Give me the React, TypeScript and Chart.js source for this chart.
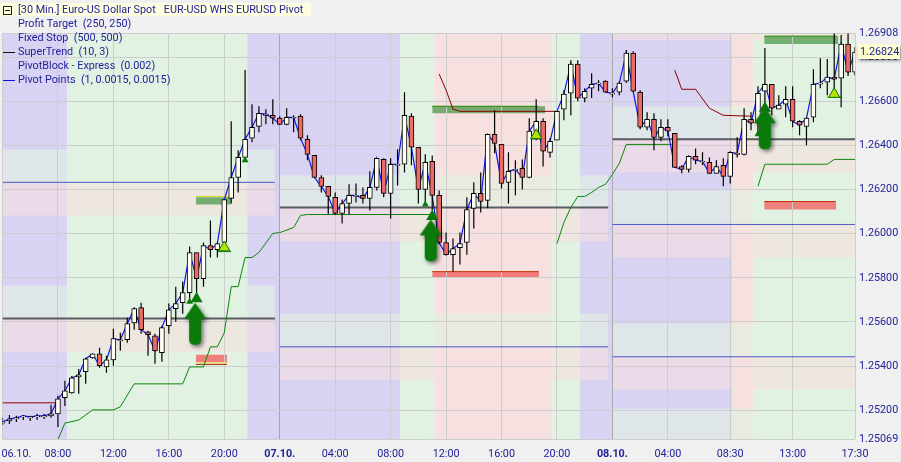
import React, { useEffect, useRef } from "react";
import { Chart, registerables } from "chart.js";

Chart.register(...registerables);

const highs = [1.25165,1.25178,1.25174,1.25178,1.25174,1.25183,1.25183,1.25224,1.25265,1.25333,1.25355,1.25387,1.25437,1.25455,1.25483,1.25446,1.25569,1.25551,1.25619,1.25665,1.25687,1.2556,1.25546,1.25583,1.25683,1.2576,1.25783,1.25942,1.25915,1.2596,1.2606,1.2596,1.26155,1.2651,1.26378,1.26742,1.26587,1.26578,1.26565,1.2661,1.26533,1.26569,1.26537,1.26542,1.26446,1.26355,1.26265,1.26215,1.26187,1.26155,1.26224,1.26228,1.2621,1.26283,1.26342,1.26342,1.26342,1.26383,1.26642,1.26546,1.26392,1.2636,1.26355,1.26196,1.26005,1.25978,1.26005,1.26165,1.26233,1.26278,1.26451,1.2656,1.26405,1.26369,1.26333,1.26337,1.26524,1.2661,1.26524,1.26433,1.26555,1.26651,1.26787,1.26787,1.2666,1.26728,1.26696,1.26696,1.2666,1.26692,1.26833,1.26828,1.26651,1.26551,1.26546,1.26519,1.26519,1.26455,1.2631,1.26355,1.26387,1.26369,1.26346,1.26333,1.26342,1.26374,1.26437,1.26569,1.26551,1.26669,1.26842,1.26678,1.26628,1.26669,1.26669,1.26515,1.26528,1.26746,1.26796,1.26792,1.2691,1.26901,1.2691,1.26846];
const lows = [1.25132,1.25137,1.25146,1.25155,1.25151,1.25155,1.2516,1.25165,1.25123,1.25219,1.25274,1.25274,1.25319,1.25433,1.25392,1.25369,1.25401,1.25469,1.25505,1.25565,1.25546,1.25446,1.2541,1.25419,1.25546,1.25601,1.25637,1.25696,1.2571,1.2576,1.25892,1.25892,1.2596,1.26137,1.26187,1.26342,1.26415,1.2646,1.26496,1.26496,1.26496,1.26492,1.2646,1.26424,1.26333,1.26255,1.26187,1.26087,1.26087,1.26046,1.26087,1.26142,1.26137,1.26105,1.26196,1.26165,1.26069,1.26219,1.26278,1.2631,1.26137,1.26137,1.26105,1.25951,1.25901,1.25828,1.2586,1.25905,1.26024,1.26096,1.26115,1.26365,1.26205,1.26137,1.26174,1.26201,1.26251,1.26424,1.26305,1.26346,1.26424,1.26515,1.26537,1.26601,1.26596,1.26615,1.26646,1.26642,1.26619,1.26628,1.26683,1.26642,1.26474,1.26469,1.26378,1.26419,1.26442,1.26301,1.26274,1.26278,1.26315,1.2631,1.26274,1.26274,1.26215,1.26228,1.26346,1.26355,1.26469,1.26455,1.26551,1.26537,1.26565,1.26528,1.26483,1.26446,1.26401,1.26505,1.2666,1.26628,1.26624,1.26574,1.26715,1.26719];
const opens = [1.25141,1.25151,1.2516,1.25169,1.25165,1.25169,1.25169,1.25174,1.25183,1.25256,1.25278,1.25351,1.25374,1.25437,1.25455,1.25396,1.25428,1.25515,1.25519,1.25596,1.25665,1.25555,1.25537,1.2546,1.25583,1.2566,1.25687,1.25733,1.25915,1.25796,1.25946,1.25928,1.2596,1.2616,1.26255,1.26346,1.26433,1.26487,1.26537,1.26537,1.26524,1.26496,1.26524,1.26533,1.26428,1.26355,1.26255,1.26215,1.26165,1.26092,1.26137,1.26169,1.26174,1.2616,1.2621,1.26337,1.26183,1.2631,1.26315,1.26533,1.26392,1.26201,1.26328,1.26174,1.2596,1.25905,1.25937,1.2596,1.26115,1.26183,1.26151,1.26451,1.26405,1.26233,1.26287,1.26296,1.26255,1.26465,1.2651,1.26369,1.26424,1.26565,1.26637,1.26769,1.26615,1.2666,1.26678,1.26692,1.26633,1.26642,1.26692,1.26819,1.26642,1.26483,1.26519,1.26437,1.26483,1.26455,1.26305,1.26292,1.26351,1.26324,1.26324,1.26274,1.2631,1.2626,1.2636,1.2636,1.26519,1.26501,1.26646,1.26678,1.26565,1.26587,1.2661,1.2651,1.26487,1.26528,1.26678,1.26687,1.2671,1.26705,1.2686,1.26733];
const closes = [1.25146,1.2516,1.25165,1.25174,1.25169,1.25174,1.25174,1.25183,1.25251,1.25287,1.25346,1.2536,1.25433,1.25455,1.25401,1.25428,1.25524,1.25519,1.25592,1.2566,1.25565,1.25542,1.25469,1.25574,1.25655,1.25683,1.25733,1.25915,1.25796,1.25946,1.25928,1.25955,1.26155,1.26255,1.26346,1.26428,1.26483,1.26546,1.26542,1.26524,1.26496,1.26528,1.26528,1.26433,1.2636,1.26255,1.26215,1.26169,1.26092,1.26137,1.26174,1.26174,1.2616,1.2621,1.26342,1.26183,1.26315,1.26315,1.26537,1.26392,1.26201,1.26324,1.26174,1.2596,1.25905,1.25933,1.25955,1.2611,1.26183,1.26146,1.26451,1.2641,1.26228,1.26283,1.26292,1.26255,1.26465,1.2651,1.26374,1.26419,1.26555,1.26633,1.26769,1.26615,1.26646,1.26678,1.26683,1.26642,1.26637,1.26683,1.26819,1.26646,1.26483,1.26519,1.26437,1.26483,1.26465,1.26301,1.26292,1.26351,1.26333,1.26328,1.26274,1.26305,1.2626,1.26369,1.26365,1.26519,1.26501,1.26637,1.26678,1.26569,1.26583,1.2661,1.2651,1.26492,1.26524,1.26678,1.26683,1.2671,1.26701,1.2686,1.26733,1.26824];

const xTickIndex = [0, 2, 8, 16, 24, 32, 40, 48, 56, 64, 72, 80, 88, 96, 105, 114, 123];
const xTickLabels = ["", "06.10.", "08:00", "12:00", "16:00", "20:00", "07.10.", "04:00", "08:00", "12:00", "16:00", "20:00", "08.10.", "04:00", "08:30", "13:00", "17:30"];
const boldDates = ["07.10.", "08.10."];
const yTickValues = [1.26908, 1.268, 1.266, 1.264, 1.262, 1.26, 1.258, 1.256, 1.254, 1.252, 1.25069];

const legendRows = ["Profit Target  (250, 250)", "Fixed Stop  (500, 500)", "SuperTrend  (10, 3)", "PivotBlock - Express  (0.002)", "Pivot Points  (1, 0.0015, 0.0015)"];
const headerText = "[30 Min.] Euro-US Dollar Spot   EUR-USD WHS EURUSD Pivot";
const lastPriceText = "1.26824";

// market-phase columns
const colStart = [0, 9.3, 35.3, 57.4, 62.3, 79.3, 83.3, 105.3, 108.3];
const colEnd = [9.3, 35.3, 57.4, 62.3, 79.3, 83.3, 105.3, 108.3, 123];
const colKind = ["p", "g", "p", "g", "r", "g", "p", "r", "g"];

// pivot blocks
const rowStart = [0, 0, 0, 0, 40, 40, 40, 40, 88, 88, 88, 88, 88, 88, 88, 88];
const rowEnd = [39.3, 39.3, 39.3, 39.3, 87.4, 87.4, 87.4, 87.4, 123, 123, 123, 123, 123, 123, 123, 123];
const rowTop = [1.26383, 1.26233, 1.25765, 1.25615, 1.26265, 1.26119, 1.25637, 1.25487, 1.26908, 1.26578, 1.26428, 1.26196, 1.26042, 1.25592, 1.25442, 1.25206];
const rowBottom = [1.26233, 1.26083, 1.25615, 1.25465, 1.26119, 1.25965, 1.25487, 1.25337, 1.26878, 1.26428, 1.26278, 1.26042, 1.25892, 1.25442, 1.25292, 1.25069];
const rowKind = ["g", "r", "g", "r", "g", "r", "g", "r", "r", "g", "r", "g", "r", "g", "r", "g"];

// target / stop zones
const zoneStart = [27.9, 62, 109.9, 27.9, 62, 109.9];
const zoneEnd = [33, 78.3, 120.6, 32.4, 77.4, 120.3];
const zoneTop = [1.26165, 1.26578, 1.26896, 1.25451, 1.25828, 1.26146];
const zoneBottom = [1.26133, 1.26546, 1.2686, 1.25417, 1.25801, 1.2611];
const zoneKind = ["t", "t", "t", "s", "s", "s"];

// horizontal level lines
const pivotStart = [0, 40, 88];
const pivotEnd = [39.3, 87.4, 123];
const pivotLevel = [1.25615, 1.26119, 1.26428];
const supportStart = [0, 40, 88, 88];
const supportEnd = [39.3, 87.4, 123, 123];
const supportLevel = [1.26233, 1.25487, 1.26042, 1.25442];
const entryStart = [27.9, 62, 109.9, 27.9, 27.9, 62, 109.9, 31.1, 76, 119];
const entryEnd = [32.9, 77.3, 120.4, 32.4, 32.4, 77.4, 120.2, 33, 77.8, 121];
const entryLevel = [1.26169, 1.26578, 1.26896, 1.25413, 1.25408, 1.25828, 1.26146, 1.25919, 1.2643, 1.26619];
const entryColor = ["#d8d820", "#1f8a00", "#1f8a00", "#f2e84a", "#a00000", "#c03000", "#c03000", "#0a7a0a", "#0a7a0a", "#0a7a0a"];

// SuperTrend pieces
const stGreen1I = [8,9,11,13,16,17,19,26,27,29,30,31,32,33,34,35,36,37,39,40,42,43,44,62];
const stGreen1V = [1.25065,1.25141,1.25155,1.25201,1.25201,1.25215,1.25319,1.25319,1.25396,1.25396,1.25487,1.25487,1.25551,1.2576,1.2576,1.25892,1.25892,1.25915,1.26001,1.26005,1.26028,1.26083,1.26087,1.26087];
const stGreen2I = [80,81,82,83,84,85,86,87,88,89,90,97];
const stGreen2V = [1.25955,1.26051,1.26119,1.26169,1.26169,1.26187,1.2621,1.26224,1.26269,1.26319,1.26405,1.26405];
const stGreen3I = [109,110,119,120,123];
const stGreen3V = [1.26215,1.26315,1.26315,1.26337,1.26337];
const stRed1I = [0, 7.6];
const stRed1V = [1.25233, 1.25233];
const stRed2I = [63,64,65,66,80];
const stRed2V = [1.26724,1.26651,1.26565,1.26555,1.26555];
const stRed3I = [97,98,100,102,104,108];
const stRed3V = [1.26742,1.26655,1.26655,1.26569,1.26537,1.26533];

// signals
const smallTriI = [27, 35, 61, 109];
const smallTriV = [1.25692, 1.26333, 1.26133, 1.26451];
const bigTriI = [28, 62, 110];
const bigTriV = [1.25705, 1.26078, 1.26569];
const limeTriI = [32, 77, 120];
const limeTriV = [1.25937, 1.26446, 1.26633];
const arrowI = [28, 62, 110.2];
const arrowV = [1.25587, 1.25965, 1.26474];

const BASE: Record<string, string> = { p: "#d9d3f3", g: "#e1f2e2", r: "#f7e0e0" };
const OVER: Record<string, string> = { g: "rgba(225,242,226,0.62)", r: "rgba(247,224,224,0.6)" };
const ZONE: Record<string, string> = { t: "rgba(30,130,30,0.58)", s: "rgba(245,70,70,0.66)" };
const NAVY = "#22229a";
const FONT = 'Roboto, "Liberation Sans", sans-serif';

function rect(a: number, b: number, top: number, bottom: number, color: string) {
  return {
    type: "line",
    data: [{ x: a, y: top }, { x: b, y: top }],
    fill: { value: bottom },
    backgroundColor: color,
    borderWidth: 0,
    pointRadius: 0,
  };
}
function pts(xs: number[], ys: number[]) {
  return xs.map((x, i) => ({ x, y: ys[i] }));
}
function poly(xs: number[], ys: number[], color: string, width = 1) {
  return { type: "line", data: pts(xs, ys), borderColor: color, borderWidth: width, pointRadius: 0, fill: false, tension: 0 };
}
function hline(a: number, b: number, v: number, color: string, width: number) {
  return poly([a, b], [v, v], color, width);
}
function makeArrow() {
  const c = document.createElement("canvas");
  c.width = 35;
  c.height = 54;
  const g = c.getContext("2d")!;
  g.shadowColor = "rgba(0,0,0,0.55)";
  g.shadowBlur = 4;
  g.shadowOffsetX = 2;
  g.shadowOffsetY = 2;
  g.fillStyle = "#0a7a0a";
  g.beginPath();
  g.moveTo(16, 5);
  g.lineTo(27, 21);
  g.lineTo(22, 21);
  g.lineTo(22, 42);
  g.quadraticCurveTo(22, 47, 16, 47);
  g.quadraticCurveTo(10, 47, 10, 42);
  g.lineTo(10, 21);
  g.lineTo(5, 21);
  g.closePath();
  g.fill();
  return c;
}

const overlay = {
  id: "overlay",
  afterDraw(chart: any) {
    const g = chart.ctx;
    g.save();
    g.fillStyle = "#ffffe0";
    g.fillRect(0, 3, 311, 13);
    g.strokeStyle = "#202020";
    g.lineWidth = 1;
    g.strokeRect(3.5, 6.5, 8, 8);
    g.beginPath();
    g.moveTo(5, 10.5);
    g.lineTo(10, 10.5);
    g.stroke();
    g.font = `10.8px ${FONT}`;
    g.textBaseline = "middle";
    g.fillStyle = NAVY;
    g.fillText(headerText, 18, 10.5);
    legendRows.forEach((t, i) => g.fillText(t, 18, 24.5 + i * 14));
    g.strokeStyle = "#101010";
    g.beginPath();
    g.moveTo(3, 52.5);
    g.lineTo(15, 52.5);
    g.stroke();
    g.strokeStyle = "#1010e0";
    g.beginPath();
    g.moveTo(3, 80.5);
    g.lineTo(15, 80.5);
    g.stroke();
    // last price tag
    const y = chart.scales.y.getPixelForValue(Number(lastPriceText));
    g.shadowColor = "rgba(0,0,0,0.5)";
    g.shadowBlur = 3;
    g.shadowOffsetX = 1;
    g.shadowOffsetY = 2;
    g.fillStyle = "#ffffd2";
    g.fillRect(858, y - 8, 42, 15);
    g.shadowColor = "transparent";
    g.fillStyle = NAVY;
    g.fillText(lastPriceText, 860, y);
    g.restore();
  },
};

export default function App() {
  const ref = useRef<HTMLCanvasElement>(null);
  useEffect(() => {
    document.body.style.margin = "0";
    const idx = opens.map((_, i) => i);
    const isUp = closes.map((c, i) => c >= opens[i]);
    const arrow = makeArrow();
    const datasets: any[] = [
      { type: "scatter", data: pts(arrowI, arrowV), pointStyle: arrow, pointRadius: 12 },
      { type: "scatter", data: pts(limeTriI, limeTriV), pointStyle: "triangle", pointRadius: 6.5, backgroundColor: "#b8e000", borderColor: "#0a7a0a", borderWidth: 1 },
      { type: "scatter", data: pts(bigTriI, bigTriV), pointStyle: "triangle", pointRadius: 7, backgroundColor: "#0a7a0a", borderColor: "#0a7a0a", borderWidth: 0 },
      { type: "scatter", data: pts(smallTriI, smallTriV), pointStyle: "triangle", pointRadius: 4, backgroundColor: "#0a7a0a", borderColor: "#0a7a0a", borderWidth: 0 },
      {
        type: "bar",
        data: idx.map((i) => ({ x: i, y: [opens[i], closes[i]] })),
        barThickness: 5,
        grouped: false,
        backgroundColor: idx.map((i) => (isUp[i] ? "#fffff4" : "#ee6a66")),
        borderColor: "#000",
        borderWidth: 1,
        borderSkipped: false,
      },
      {
        type: "bar",
        data: idx.map((i) => ({ x: i, y: [lows[i], highs[i]] })),
        barThickness: 1.2,
        grouped: false,
        backgroundColor: "#000",
        borderWidth: 0,
        inflateAmount: 0,
      },
      poly(idx, closes, "#1414e6", 1.2),
      poly(stGreen1I, stGreen1V, "#0b860b"),
      poly(stGreen2I, stGreen2V, "#0b860b"),
      poly(stGreen3I, stGreen3V, "#0b860b"),
      poly(stRed1I, stRed1V, "#8b0000"),
      poly(stRed2I, stRed2V, "#8b0000"),
      poly(stRed3I, stRed3V, "#8b0000"),
      ...entryLevel.map((v, i) => hline(entryStart[i], entryEnd[i], v, entryColor[i], 1)),
      ...pivotLevel.map((v, i) => hline(pivotStart[i], pivotEnd[i], v, "#5a5a62", 2)),
      ...supportLevel.map((v, i) => hline(supportStart[i], supportEnd[i], v, "#4a58c8", 1)),
      ...zoneTop.map((v, i) => rect(zoneStart[i], zoneEnd[i], v, zoneBottom[i], ZONE[zoneKind[i]])),
      ...rowTop.map((v, i) => rect(rowStart[i], rowEnd[i], v, rowBottom[i], OVER[rowKind[i]])),
      ...colStart.map((a, i) => rect(a, colEnd[i], 1.26908, 1.25069, BASE[colKind[i]])),
    ];
    const chart = new Chart(ref.current!, {
      type: "bar",
      data: { datasets },
      plugins: [overlay],
      options: {
        responsive: false,
        animation: false,
        events: [],
        layout: { autoPadding: false, padding: { left: 2.5, top: 33.5, right: 0, bottom: 0 } },
        plugins: { legend: { display: false }, tooltip: { enabled: false }, filler: { drawTime: "beforeDraw" } },
        scales: {
          x: {
            type: "linear",
            min: 0,
            max: 123,
            offset: false,
            grid: {
              offset: false,
              drawTicks: false,
              lineWidth: 1,
              color: (c: any) => {
                const v = c.tick?.value;
                if (v === 2) return "rgba(0,0,0,0)";
                return v === 40 || v === 88 ? "#a8a8a8" : "#cdcdcd";
              },
            },
            border: { display: false },
            afterBuildTicks: (s: any) => {
              s.ticks = xTickIndex.map((value) => ({ value }));
            },
            afterFit: (s: any) => {
              s.height = 23;
              s.paddingLeft = 0;
              s.paddingRight = 0;
            },
            ticks: {
              autoSkip: false,
              maxRotation: 0,
              minRotation: 0,
              padding: 9,
              color: NAVY,
              font: (c: any) => {
                const lab = xTickLabels[xTickIndex.indexOf(c.tick?.value)];
                return { family: FONT, size: 10.8, weight: boldDates.includes(lab) ? "bold" : "normal" };
              },
              callback: (v: any) => xTickLabels[xTickIndex.indexOf(Number(v))] ?? "",
            },
          },
          y: {
            type: "linear",
            position: "right",
            min: 1.25069,
            max: 1.26908,
            grid: { drawTicks: false, color: "#cdcdcd", lineWidth: 1 },
            border: { display: false },
            afterBuildTicks: (s: any) => {
              s.ticks = yTickValues.map((value) => ({ value }));
            },
            afterFit: (s: any) => {
              s.width = 46;
              s.paddingTop = 0;
              s.paddingBottom = 0;
            },
            ticks: {
              autoSkip: false,
              padding: 4,
              color: NAVY,
              font: { family: FONT, size: 10.8 },
              callback: (v: any) => Number(v).toFixed(5),
            },
          },
        },
      },
    } as any);
    return () => chart.destroy();
  }, []);
  return <canvas ref={ref} width={901} height={462} style={{ display: "block", width: 901, height: 462, background: "#f0f0f0" }} />;
}
